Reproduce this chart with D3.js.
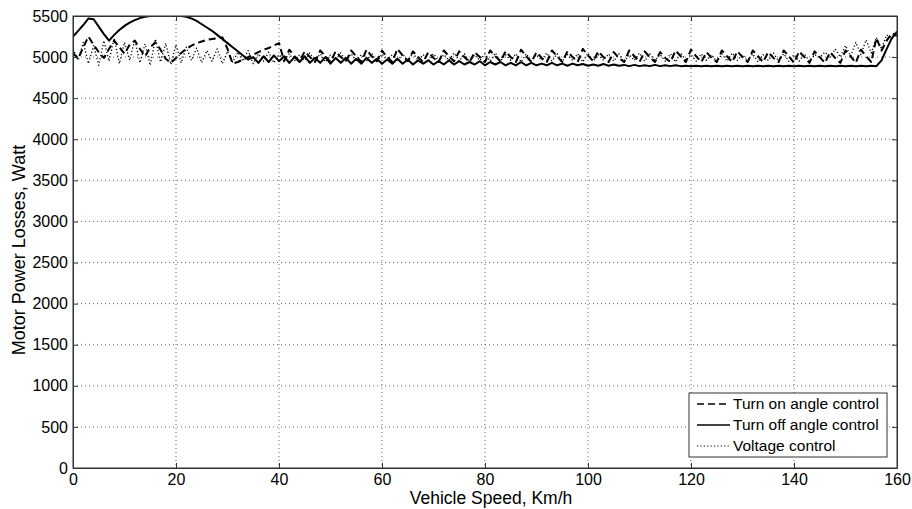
<!DOCTYPE html>
<html>
<head>
<meta charset="utf-8">
<script src="https://cdn.jsdelivr.net/npm/d3@7"></script>
<style>
  body { margin: 0; background: #fff; }
  svg { font-family: "Liberation Sans", Arial, sans-serif; }
  .axis path, .axis line { stroke: #333; }
  .axis text { font-size: 16px; fill: #000; }
</style>
</head>
<body>
<div id="chart"></div>
<script>
// x ticks / y ticks
var xTicks = [0, 20, 40, 60, 80, 100, 120, 140, 160];
var yTicks = [0, 500, 1000, 1500, 2000, 2500, 3000, 3500, 4000, 4500, 5000, 5500];

// vehicle speed grid, km/h (one sample per km/h)
var speed = d3.range(0, 161);

// Turn on angle control (dashed)
var turnOn = [
    5050, 4980, 5120, 5250, 5150, 5060, 4990, 5100, 5200, 5120,
    5040, 5150, 5200, 5100, 5010, 5120, 5180, 5090, 4980, 4930,
    4990, 5050, 5100, 5140, 5170, 5190, 5210, 5220, 5230, 5240,
    5100, 4920, 4940, 4970, 5000, 5030, 5060, 5090, 5110, 5140,
    5170,
    4950, 5090, 5010, 4950, 5070, 5000, 4940, 5080, 5010, 4940,
    5070, 5000, 4950, 5080, 5010, 4940, 5090, 5010, 4950, 5080,
    5000, 4940, 5100, 5020, 4950, 5070, 5000, 4940, 5060, 4990,
    4940, 5080, 5010, 4950, 5070, 5000, 4940, 5060, 5000, 4940,
    5080, 5010, 4950, 5070, 5000, 4940, 5090, 5010, 4940, 5060,
    4990, 4940, 5080, 5010, 4940, 5070, 5000, 4940, 5100, 5020,
    4950, 5070, 5000, 4940, 5060, 4990, 4940, 5080, 5010, 4940,
    5070, 5000, 4940, 5060, 4990, 4940, 5080, 5010, 4940, 5090,
    5010, 4940, 5060, 4990, 4940, 5080, 5010, 4940, 5070, 5000,
    4940, 5080, 5010, 4940, 5060, 4990, 4940, 5080, 5010, 4930,
    5070, 5000, 4930, 5070, 5000, 4930, 5060, 4990, 4930, 5080,
    5010, 4930, 5090, 5010, 4940, 5230, 5080, 5200, 5290, 5260
];

// Turn off angle control (solid)
var turnOff = [
    5250, 5320, 5390, 5470, 5460, 5370, 5280, 5200, 5270, 5330,
    5380, 5420, 5450, 5475, 5490, 5500, 5500, 5500, 5500, 5500,
    5500, 5500, 5490, 5470, 5440, 5400, 5360, 5320, 5270, 5220,
    5170, 5120, 5070, 5020, 4970, 5000, 4930, 5010, 4940, 5020,
    4950, 5010, 4930, 5000, 4940, 5010, 4930, 4990, 4930, 5000,
    4920, 4990, 4930, 4990, 4920, 4980, 4920, 4990, 4930, 4980,
    4920, 4970, 4920, 4980, 4920, 4970, 4910, 4960, 4920, 4960,
    4910, 4950, 4910, 4960, 4910, 4950, 4910, 4940, 4910, 4950,
    4900, 4940, 4910, 4940, 4900, 4930, 4900, 4940, 4900, 4930,
    4900, 4920, 4900, 4930, 4900, 4920, 4895, 4920, 4900, 4915,
    4895, 4910, 4895, 4915, 4895, 4910, 4895, 4905, 4890, 4905,
    4890, 4900, 4890, 4905, 4890, 4900, 4890, 4900, 4890, 4895,
    4890, 4895, 4890, 4895, 4890, 4895, 4890, 4895, 4890, 4895,
    4890, 4895, 4890, 4895, 4890, 4895, 4890, 4895, 4890, 4895,
    4890, 4895, 4890, 4895, 4890, 4895, 4890, 4895, 4890, 4895,
    4890, 4895, 4890, 4895, 4890, 4895, 4890, 4960, 5100, 5230,
    5310
];

// Voltage control (dotted)
var voltage = [
    5100, 4960, 5180, 4920, 5140, 4900, 5200, 4950, 5230, 4920,
    5180, 4960, 5210, 4930, 5160, 4900, 5220, 4940, 5170, 4910,
    5150, 4930, 5120, 4960, 5110, 4930, 5080, 4950, 5100, 4920,
    5070, 4940, 5060, 4950, 5080, 4920, 5040, 4950, 5060, 4930,
    5030,
    4960, 5040, 4950, 5030, 4960, 5050, 4950, 5040, 4940, 5030,
    4960, 5050, 4950, 5040, 4960, 5030, 4950, 5050, 4940, 5040,
    4960, 5030, 4950, 5040, 4950, 5050, 4960, 5030, 4940, 5040,
    4950, 5030, 4960, 5050, 4950, 5040, 4940, 5030, 4960, 5040,
    4950, 5050, 4950, 5030, 4960, 5040, 4940, 5040, 4950, 5030,
    4960, 5050, 4950, 5040, 4950, 5030, 4960, 5040, 4940, 5050,
    4950, 5030, 4960, 5040, 4950, 5040, 4940, 5030, 4960, 5050,
    4950, 5040, 4960, 5030, 4950, 5040, 4940, 5050, 4960, 5030,
    4950, 5040, 4960, 5030, 4940, 5040, 4950, 5050, 4960, 5030,
    4950, 5040, 4940, 5030, 4960, 5050, 4950, 5040, 4950, 5030,
    4950, 5040, 4950, 5030,
    5000, 5060, 4990, 5100, 5000, 5140, 5010, 5180, 5030, 5210,
    5050, 5240, 5100, 5270, 5220, 5290
];

var seriesNames = ["Turn on angle control", "Turn off angle control", "Voltage control"];
var seriesValues = [turnOn, turnOff, voltage];
var seriesDash = ["7,4", null, "1.2,2.2"];
var seriesWidth = [2, 2, 1.3];

var W = 912, H = 509;
var margin = { top: 16, right: 15, bottom: 41, left: 73 };
var width = W - margin.left - margin.right,
    height = H - margin.top - margin.bottom;

var svg = d3.select("#chart").append("svg")
    .attr("width", W)
    .attr("height", H);

var g = svg.append("g")
    .attr("transform", "translate(" + margin.left + "," + margin.top + ")");

var x = d3.scaleLinear().domain([0, 160]).range([0, width]);
var y = d3.scaleLinear().domain([0, 5500]).range([height, 0]);

// grid
g.append("g").selectAll("line")
    .data(xTicks.slice(1, -1))
    .enter().append("line")
    .attr("x1", d => x(d)).attr("x2", d => x(d))
    .attr("y1", 0).attr("y2", height)
    .attr("stroke", "#444").attr("stroke-width", 0.8)
    .attr("stroke-dasharray", "1,3");

g.append("g").selectAll("line")
    .data(yTicks.slice(1, -1))
    .enter().append("line")
    .attr("x1", 0).attr("x2", width)
    .attr("y1", d => y(d)).attr("y2", d => y(d))
    .attr("stroke", "#444").attr("stroke-width", 0.8)
    .attr("stroke-dasharray", "1,3");

// clip so lines stay inside the box
g.append("clipPath").attr("id", "plot-clip")
    .append("rect").attr("width", width).attr("height", height);

var line = d3.line()
    .x((d, i) => x(speed[i]))
    .y(d => y(d));

var lines = g.append("g").attr("clip-path", "url(#plot-clip)");

// draw voltage first, then the others on top
[2, 0, 1].forEach(function(k) {
    lines.append("path")
        .datum(seriesValues[k])
        .attr("fill", "none")
        .attr("stroke", "#000")
        .attr("stroke-width", seriesWidth[k])
        .attr("stroke-dasharray", seriesDash[k])
        .attr("stroke-linejoin", "round")
        .attr("d", line);
});

// axes (ticks pointing inward like matlab)
var fmt = d3.format("d");

g.append("g").attr("class", "axis")
    .attr("transform", "translate(0," + height + ")")
    .call(d3.axisBottom(x).tickValues(xTicks).tickFormat(fmt).tickSize(-5).tickPadding(6).tickSizeOuter(0));

g.append("g").attr("class", "axis")
    .call(d3.axisTop(x).tickValues(xTicks).tickSize(-5).tickFormat("").tickSizeOuter(0));

g.append("g").attr("class", "axis")
    .call(d3.axisLeft(y).tickValues(yTicks).tickFormat(fmt).tickSize(-5).tickPadding(5).tickSizeOuter(0));

g.append("g").attr("class", "axis")
    .attr("transform", "translate(" + width + ",0)")
    .call(d3.axisRight(y).tickValues(yTicks).tickSize(-5).tickFormat("").tickSizeOuter(0));

// box
g.append("rect")
    .attr("width", width).attr("height", height)
    .attr("fill", "none").attr("stroke", "#333").attr("stroke-width", 1);

// axis titles
svg.append("text")
    .attr("x", margin.left + width / 2 + 6)
    .attr("y", 504)
    .attr("text-anchor", "middle")
    .attr("font-size", 17.5)
    .text("Vehicle Speed, Km/h");

svg.append("text")
    .attr("transform", "translate(25," + (margin.top + height / 2 + 8) + ") rotate(-90)")
    .attr("text-anchor", "middle")
    .attr("font-size", 18)
    .text("Motor Power Losses, Watt");

// legend
var legend = svg.append("g").attr("transform", "translate(689,393)");

legend.append("rect")
    .attr("width", 198).attr("height", 64)
    .attr("fill", "#fff").attr("stroke", "#333").attr("stroke-width", 1);

var items = legend.selectAll(".legend-item")
    .data(seriesNames)
    .enter().append("g")
    .attr("class", "legend-item")
    .attr("transform", (d, i) => "translate(0," + (11 + i * 21) + ")");

items.append("line")
    .attr("x1", 8).attr("x2", 41)
    .attr("stroke", "#000")
    .attr("stroke-width", (d, i) => i === 2 ? 1 : 1.5)
    .attr("stroke-dasharray", (d, i) => seriesDash[i]);

items.append("text")
    .attr("x", 44)
    .attr("dy", "0.35em")
    .attr("font-size", 15.5)
    .text(d => d);
</script>
</body>
</html>
